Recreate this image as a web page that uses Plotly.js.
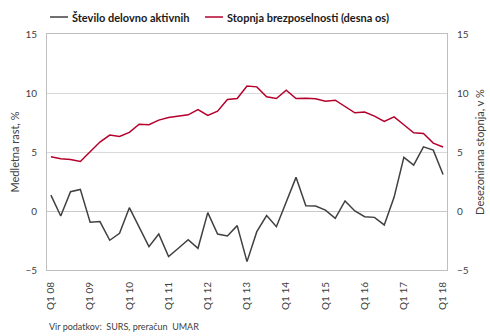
<!DOCTYPE html>
<html>
<head>
<meta charset="utf-8">
<script src="https://cdn.plot.ly/plotly-3.0.1.min.js"></script>
<style>html,body{margin:0;padding:0;background:#fff;}#chart{width:490px;height:336px;}</style>
</head>
<body>
<div id="chart"></div>
<script>
const tickLabels = ["Q1 08","Q1 09","Q1 10","Q1 11","Q1 12","Q1 13","Q1 14","Q1 15","Q1 16","Q1 17","Q1 18"];
const seriesNames = ["Število delovno aktivnih", "Stopnja brezposelnosti (desna os)"];
const quarters = [];
for (let y = 8; y <= 18; y++) {
  for (let q = 1; q <= 4; q++) {
    if (y === 18 && q > 1) break;
    quarters.push("Q" + q + " " + String(y).padStart(2, "0"));
  }
}
const employed = [1.35,-0.42,1.64,1.83,-0.96,-0.9,-2.48,-1.89,0.28,-1.33,
  -3.02,-1.95,-3.86,-3.16,-2.43,-3.16,-0.14,-1.95,-2.12,-1.24,
  -4.29,-1.75,-0.39,-1.33,0.71,2.85,0.45,0.42,0.08,-0.62,
  0.85,0.0,-0.48,-0.54,-1.18,1.16,4.54,3.89,5.44,5.16,3.10];
const unemployment = [4.60,4.43,4.37,4.20,5.02,5.84,6.43,6.32,6.66,7.36,
  7.31,7.70,7.93,8.01,8.15,8.60,8.10,8.46,9.45,9.53,
  10.6,10.52,9.68,9.53,10.24,9.53,9.56,9.51,9.31,9.39,
  8.83,8.32,8.38,8.04,7.59,7.98,7.31,6.63,6.57,5.75,5.42];

const FONT = "Lato, 'Open Sans', sans-serif";
const colors = ["#404040", "#b5002c"];
const traces = [
  {x: quarters, y: employed, type: "scatter", mode: "lines", name: seriesNames[0],
   line: {color: colors[0], width: 1.5}, yaxis: "y"},
  {x: quarters, y: unemployment, type: "scatter", mode: "lines", name: seriesNames[1],
   line: {color: colors[1], width: 1.5}, yaxis: "y2"}
];
// custom legend (symbols + labels) in paper coordinates
const legY = 1.072;
const legItems = [{x0: 0.0075, x1: 0.0525, tx: 0.0575}, {x0: 0.395, x1: 0.44, tx: 0.445}];
const shapes = legItems.map((it, i) => ({type: "line", xref: "paper", yref: "paper",
  x0: it.x0, x1: it.x1, y0: legY, y1: legY, line: {color: colors[i], width: 1.5}}));
const annotations = legItems.map((it, i) => ({text: "<b>" + seriesNames[i] + "</b>", xref: "paper", yref: "paper",
  x: it.tx, y: legY, xanchor: "left", yanchor: "middle", showarrow: false,
  font: {family: FONT, size: 11, color: "#1a1a1a"}}));
annotations.push({text: "Vir podatkov:  SURS, preračun  UMAR", xref: "paper", yref: "paper", x: 0, y: -0.24,
  xanchor: "left", yanchor: "middle", showarrow: false, font: {family: FONT, size: 9, color: "#404040"}});

const layout = {
  width: 490, height: 336,
  margin: {l: 47, r: 43, t: 34, b: 66},
  paper_bgcolor: "#fff", plot_bgcolor: "#fff",
  font: {family: FONT, size: 10, color: "#404040"},
  showlegend: false,
  xaxis: {type: "category", categoryarray: quarters, range: [-0.4, 40.4],
    tickmode: "array", tickvals: tickLabels, ticktext: tickLabels,
    tickangle: -90, ticks: "outside", ticklen: 7, tickcolor: "rgba(0,0,0,0)",
    showgrid: false, zeroline: false,
    showline: true, linecolor: "#bfbfbf", linewidth: 1, mirror: true,
    tickfont: {family: FONT, size: 10, color: "#404040"}},
  yaxis: {range: [-5, 15], tickvals: [-5, 0, 5, 10, 15], ticks: "outside", ticklen: 7, tickcolor: "rgba(0,0,0,0)",
    showgrid: true, gridcolor: "#d9d9d9", gridwidth: 1, zeroline: true, zerolinecolor: "#c8c8c8",
    showline: true, linecolor: "#bfbfbf", linewidth: 1, mirror: true,
    title: {text: "Medletna rast, %", font: {family: FONT, size: 11, color: "#404040"}, standoff: 3},
    tickfont: {family: FONT, size: 10, color: "#404040"}},
  yaxis2: {range: [-5, 15], tickvals: [-5, 0, 5, 10, 15], ticks: "outside", ticklen: 7, tickcolor: "rgba(0,0,0,0)",
    overlaying: "y", side: "right",
    showgrid: false, zeroline: false, showline: false,
    title: {text: "Desezonirana stopnja, v %", font: {family: FONT, size: 11, color: "#404040"}, standoff: 8},
    tickfont: {family: FONT, size: 10, color: "#404040"}},
  shapes: shapes,
  annotations: annotations
};
Plotly.newPlot("chart", traces, layout, {displayModeBar: false, staticPlot: true});
</script>
</body>
</html>
